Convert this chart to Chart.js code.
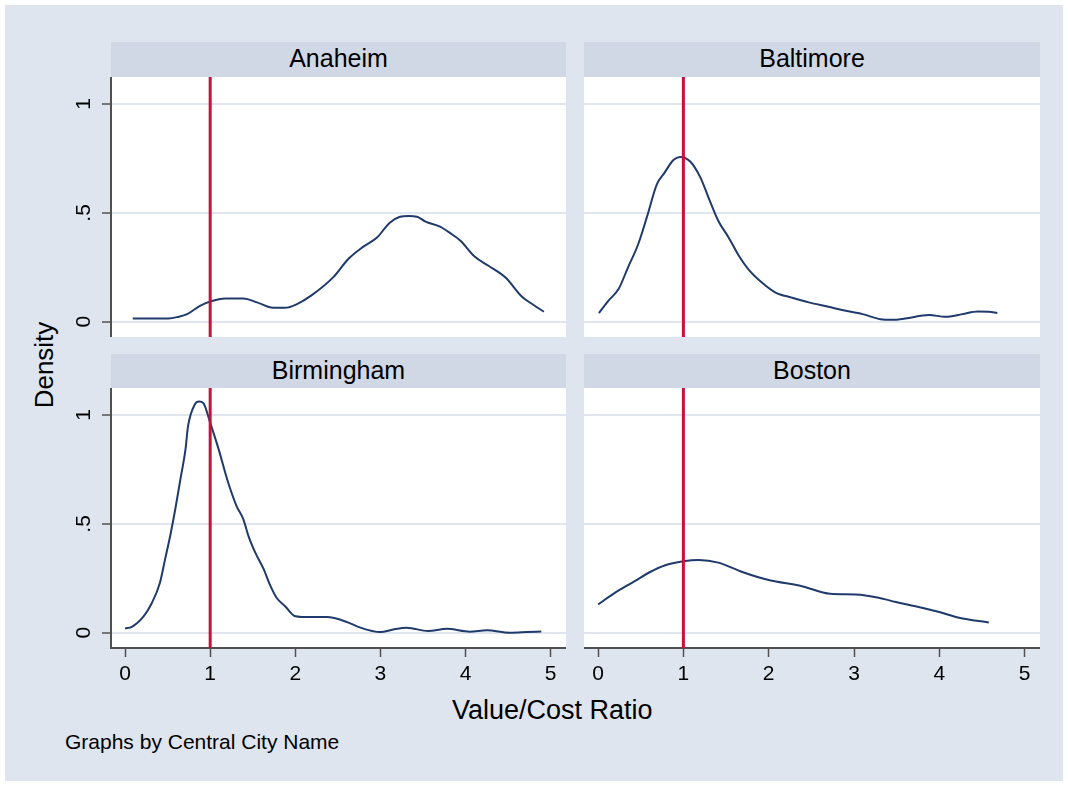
<!DOCTYPE html>
<html>
<head>
<meta charset="utf-8">
<script src="https://cdn.jsdelivr.net/npm/chart.js@4.4.1/dist/chart.umd.min.js"></script>
<style>
    body { margin: 0; background: #ffffff; font-family: 'Liberation Sans', Arial, sans-serif; }
    #wrap { position: relative; width: 1068px; height: 785px; overflow: hidden; }
    #bg { position: absolute; left: 5px; top: 5px; width: 1058px; height: 776px; background: #dee5ef; }
    canvas { position: absolute; }
    .head { position: absolute; height: 35px; line-height: 33px; background: #d1d8e5;
        text-align: center; font-size: 25px; color: #000; }
    .txt { position: absolute; color: #000; white-space: nowrap; }
</style>
</head>
<body>
<div id="wrap">
    <div id="bg"></div>
    <div class="head" style="left:111px; top:42px; width:455px;">Anaheim</div>
    <div class="head" style="left:584px; top:42px; width:456px;">Baltimore</div>
    <div class="head" style="left:111px; top:354px; width:455px; height:34px;">Birmingham</div>
    <div class="head" style="left:584px; top:354px; width:456px; height:34px;">Boston</div>
    <canvas id="c1" width="506" height="260" style="left:60px; top:77px;"></canvas>
    <canvas id="c2" width="456" height="260" style="left:584px; top:77px;"></canvas>
    <canvas id="c3" width="506" height="300" style="left:60px; top:388px;"></canvas>
    <canvas id="c4" width="456" height="300" style="left:584px; top:388px;"></canvas>
    <div class="txt" style="left:-6px; top:352px; width:100px; text-align:center; font-size:26px; line-height:26px; transform:rotate(-90deg);">Density</div>
    <div class="txt" style="left:452px; top:697px; font-size:27px; line-height:27px;">Value/Cost Ratio</div>
    <div class="txt" style="left:65px; top:731px; font-size:21px; line-height:21px;">Graphs by Central City Name</div>
</div>
<script>
// Densidades estimadas (Value/Cost Ratio vs Density).
var anaheimX = [0.09, 0.30, 0.51, 0.62, 0.73, 0.88, 1.00, 1.18, 1.39, 1.55, 1.74, 1.88, 2.02, 2.19,
    2.45, 2.62, 2.80, 2.96, 3.11, 3.23, 3.33, 3.43, 3.53, 3.70, 3.82, 3.94, 4.11, 4.27, 4.47, 4.66,
    4.80, 4.92];
var anaheimY = [0.015, 0.015, 0.015, 0.022, 0.035, 0.073, 0.093, 0.107, 0.107, 0.089, 0.064, 0.064,
    0.081, 0.121, 0.206, 0.287, 0.345, 0.387, 0.455, 0.482, 0.486, 0.482, 0.460, 0.437, 0.407, 0.372,
    0.298, 0.257, 0.203, 0.116, 0.077, 0.046];

var baltimoreX = [0.01, 0.12, 0.24, 0.35, 0.47, 0.57, 0.69, 0.78, 0.88, 0.96, 1.08, 1.20, 1.31, 1.41,
    1.53, 1.65, 1.76, 1.92, 2.08, 2.27, 2.47, 2.70, 2.86, 3.10, 3.31, 3.45, 3.60, 3.88, 4.07, 4.27,
    4.45, 4.58, 4.68];
var baltimoreY = [0.040, 0.096, 0.150, 0.249, 0.356, 0.478, 0.632, 0.685, 0.742, 0.757, 0.736, 0.662,
    0.555, 0.463, 0.387, 0.303, 0.242, 0.180, 0.134, 0.111, 0.089, 0.069, 0.054, 0.035, 0.012, 0.009,
    0.015, 0.031, 0.023, 0.035, 0.047, 0.046, 0.040];

var birminghamX = [0.00, 0.08, 0.22, 0.31, 0.41, 0.47, 0.53, 0.59, 0.65, 0.71, 0.74, 0.82, 0.87, 0.92,
    1.00, 1.10, 1.20, 1.31, 1.39, 1.45, 1.53, 1.63, 1.70, 1.78, 1.88, 2.00, 2.17, 2.37, 2.61, 2.74,
    3.00, 3.15, 3.31, 3.56, 3.78, 4.05, 4.25, 4.52, 4.72, 4.89];
var birminghamY = [0.020, 0.027, 0.076, 0.133, 0.230, 0.337, 0.444, 0.567, 0.704, 0.842, 0.949, 1.049,
    1.062, 1.054, 0.965, 0.842, 0.704, 0.582, 0.521, 0.444, 0.368, 0.291, 0.222, 0.161, 0.122, 0.076,
    0.072, 0.072, 0.049, 0.027, 0.003, 0.015, 0.023, 0.008, 0.018, 0.005, 0.011, 0.000, 0.003, 0.006];

var bostonX = [0.00, 0.20, 0.43, 0.61, 0.78, 1.00, 1.18, 1.41, 1.69, 2.00, 2.39, 2.72, 3.02, 3.29,
    3.49, 3.72, 4.00, 4.23, 4.58];
var bostonY = [0.130, 0.184, 0.237, 0.279, 0.309, 0.328, 0.334, 0.322, 0.279, 0.242, 0.214, 0.179,
    0.176, 0.161, 0.141, 0.122, 0.095, 0.069, 0.047];

// Ejes y linea de referencia
var xTicks = [0, 1, 2, 3, 4, 5];
var xTickLabels = ['0', '1', '2', '3', '4', '5'];
var yTicks = [0, 0.5, 1];
var yTickLabels = ['0', '.5', '1'];
var refLineX = 1;
var xMin = -0.165, xMax = 5.18;
var yMin = -0.07, yMax = 1.124;

var navy = '#1f3a6b';
var red = '#c8103a';
var gridColor = '#e0e6ef';
var axisColor = '#505050';

Chart.defaults.font.family = "'Liberation Sans', Arial, sans-serif";

// Pinta de blanco el area de la grafica.
var plotBg = {
    id: 'plotBg',
    beforeDraw: function (chart) {
        var a = chart.chartArea;
        var ctx = chart.ctx;
        ctx.save();
        ctx.fillStyle = '#ffffff';
        ctx.fillRect(a.left, a.top, a.right - a.left, a.bottom - a.top);
        ctx.restore();
    }
};

function toPoints(xs, ys) {
    var pts = [];
    for (var i = 0; i < xs.length; i++) {
        pts.push({ x: xs[i], y: ys[i] });
    }
    return pts;
}

// Crea un panel; showY y showX indican si se dibuja el eje correspondiente.
function crearPanel(id, xs, ys, showY, showX) {
    var ctx = document.getElementById(id).getContext('2d');
    return new Chart(ctx, {
        type: 'line',
        data: {
            datasets: [{
                data: [{ x: refLineX, y: yMin }, { x: refLineX, y: yMax }],
                borderColor: red,
                borderWidth: 3,
                pointRadius: 0,
                tension: 0
            }, {
                data: toPoints(xs, ys),
                borderColor: navy,
                borderWidth: 2,
                pointRadius: 0,
                cubicInterpolationMode: 'monotone'
            }]
        },
        options: {
            responsive: false,
            animation: false,
            events: [],
            layout: { padding: 0 },
            plugins: { legend: { display: false }, tooltip: { enabled: false } },
            scales: {
                x: {
                    type: 'linear',
                    min: xMin,
                    max: xMax,
                    display: showX,
                    afterBuildTicks: function (s) {
                        s.ticks = xTicks.map(function (v) { return { value: v }; });
                    },
                    afterFit: function (s) {
                        s.height = showX ? 40 : 0;
                        s.paddingLeft = 0; s.paddingRight = 0;
                    },
                    grid: { drawOnChartArea: false, drawTicks: true, tickLength: 9,
                        tickColor: axisColor, tickWidth: 1.5 },
                    border: { display: true, color: axisColor, width: 2 },
                    ticks: {
                        autoSkip: false, maxRotation: 0, minRotation: 0, padding: 5,
                        color: '#000', font: { size: 21 },
                        callback: function (v, i) { return xTickLabels[i]; }
                    }
                },
                y: {
                    type: 'linear',
                    min: yMin,
                    max: yMax,
                    afterBuildTicks: function (s) {
                        s.ticks = yTicks.map(function (v) { return { value: v }; });
                    },
                    afterFit: function (s) {
                        s.width = showY ? 51 : 0;
                        s.paddingTop = 0; s.paddingBottom = 0;
                    },
                    grid: { color: gridColor, lineWidth: 2, drawTicks: showY, tickLength: 9,
                        tickColor: axisColor, tickWidth: 1.5 },
                    border: { display: showY, color: axisColor, width: 2 },
                    ticks: {
                        display: showY, minRotation: 90, maxRotation: 90, crossAlign: 'center',
                        padding: 9, color: '#000', font: { size: 21 },
                        callback: function (v, i) { return yTickLabels[i]; }
                    }
                }
            }
        },
        plugins: [plotBg]
    });
}

crearPanel('c1', anaheimX, anaheimY, true, false);
crearPanel('c2', baltimoreX, baltimoreY, false, false);
crearPanel('c3', birminghamX, birminghamY, true, true);
crearPanel('c4', bostonX, bostonY, false, true);
</script>
</body>
</html>
